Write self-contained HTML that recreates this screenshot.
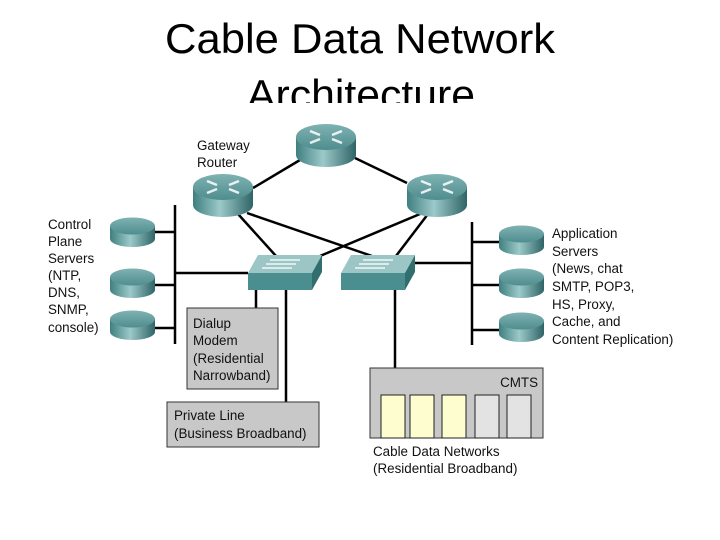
<!DOCTYPE html>
<html><head><meta charset="utf-8"><style>
html,body{margin:0;padding:0;background:#fff;}
svg{display:block;font-family:"Liberation Sans",Arial,sans-serif;}
</style></head><body>
<svg width="720" height="540" viewBox="0 0 720 540" xmlns="http://www.w3.org/2000/svg">
<defs>
<linearGradient id="cyl" x1="0" x2="1" y1="0" y2="0">
<stop offset="0" stop-color="#3f7f80"/><stop offset="0.45" stop-color="#9cc9c9"/><stop offset="1" stop-color="#2f6466"/>
</linearGradient>
<linearGradient id="top" x1="0" x2="0" y1="0" y2="1">
<stop offset="0" stop-color="#7fb2b3"/><stop offset="1" stop-color="#4f8d8e"/>
</linearGradient>
<clipPath id="tc"><rect x="0" y="0" width="720" height="103"/></clipPath>
<g id="router">
<path d="M0,14 L0,32 A30,12 0 0 0 60,32 L60,14 Z" fill="url(#cyl)"/>
<ellipse cx="30" cy="14" rx="30" ry="13" fill="url(#top)"/>
<g stroke="#fff" stroke-width="2.5" opacity="0.85">
<line x1="14" y1="8" x2="24" y2="12"/><line x1="36" y1="16" x2="46" y2="20"/>
<line x1="46" y1="8" x2="36" y2="12"/><line x1="24" y1="16" x2="14" y2="20"/>
</g>
</g>
<g id="server">
<path d="M0,9 L0,22 A22.5,8 0 0 0 45,22 L45,9 Z" fill="url(#cyl)"/>
<ellipse cx="22.5" cy="9" rx="22.5" ry="8.5" fill="url(#top)"/>
</g>
<g id="switch">
<polygon points="10,0 74,0 64,18 0,18" fill="#9cc6c6"/>
<polygon points="0,18 64,18 64,35 0,35" fill="#4a8e8f"/>
<polygon points="64,18 74,0 74,17 64,35" fill="#336e6f"/>
<g stroke="#fff" stroke-width="1.5" opacity="0.85">
<line x1="22" y1="5" x2="52" y2="5"/><line x1="18" y1="9" x2="48" y2="9"/><line x1="14" y1="13" x2="44" y2="13"/>
</g>
</g>
</defs>

<g clip-path="url(#tc)" font-size="42" fill="#000" text-anchor="middle">
<text x="360" y="53" textLength="390" lengthAdjust="spacingAndGlyphs">Cable Data Network</text>
<text x="361" y="109" textLength="228" lengthAdjust="spacingAndGlyphs">Architecture</text>
</g>

<g stroke="#000" stroke-width="2.5" fill="none">
<line x1="253" y1="188" x2="300" y2="160"/>
<line x1="355" y1="158" x2="407" y2="183"/>
<line x1="238" y1="214" x2="276" y2="256"/>
<line x1="247" y1="213" x2="372" y2="256"/>
<line x1="420" y1="214" x2="320" y2="256"/>
<line x1="428" y1="214" x2="396" y2="256"/>
<line x1="175" y1="205" x2="175" y2="344"/>
<line x1="150" y1="232" x2="175" y2="232"/>
<line x1="150" y1="285" x2="175" y2="285"/>
<line x1="150" y1="328" x2="175" y2="328"/>
<line x1="175" y1="273" x2="248" y2="273"/>
<line x1="472" y1="222" x2="472" y2="345"/>
<line x1="472" y1="242" x2="500" y2="242"/>
<line x1="472" y1="285" x2="500" y2="285"/>
<line x1="472" y1="330" x2="500" y2="330"/>
<line x1="415" y1="263" x2="472" y2="263"/>
<line x1="256" y1="290" x2="256" y2="309"/>
<line x1="286" y1="290" x2="286" y2="402"/>
<line x1="395" y1="290" x2="395" y2="368"/>
</g>

<use href="#router" x="296" y="123"/>
<use href="#router" x="193" y="173"/>
<use href="#router" x="407" y="173"/>
<use href="#switch" x="248" y="255"/>
<use href="#switch" x="341" y="255"/>
<use href="#server" x="110" y="217"/>
<use href="#server" x="110" y="268"/>
<use href="#server" x="110" y="310"/>
<use href="#server" x="499" y="225"/>
<use href="#server" x="499" y="268"/>
<use href="#server" x="499" y="312"/>

<g font-size="13.4" fill="#111">
<text x="197" y="150">Gateway</text>
<text x="197" y="167">Router</text>
<text x="48" y="229">Control</text>
<text x="48" y="246">Plane</text>
<text x="48" y="263">Servers</text>
<text x="48" y="280">(NTP,</text>
<text x="48" y="297">DNS,</text>
<text x="48" y="314">SNMP,</text>
<text x="48" y="332">console)</text>
<text x="552" y="238">Application</text>
<text x="552" y="256">Servers</text>
<text x="552" y="273">(News, chat</text>
<text x="552" y="291">SMTP, POP3,</text>
<text x="552" y="309">HS, Proxy,</text>
<text x="552" y="326">Cache, and</text>
<text x="552" y="344">Content Replication)</text>
</g>

<rect x="187" y="308" width="91" height="81" fill="#c8c8c8" stroke="#333" stroke-width="1"/>
<g font-size="13.4" fill="#111">
<text x="193" y="328">Dialup</text>
<text x="193" y="345">Modem</text>
<text x="193" y="363">(Residential</text>
<text x="193" y="380">Narrowband)</text>
</g>
<rect x="167" y="402" width="152" height="45" fill="#c8c8c8" stroke="#333" stroke-width="1"/>
<g font-size="13.4" fill="#111">
<text x="174" y="420">Private Line</text>
<text x="174" y="438">(Business Broadband)</text>
</g>

<rect x="370" y="368" width="173" height="70" fill="#c8c8c8" stroke="#333" stroke-width="1"/>
<text x="538" y="387" font-size="13.4" text-anchor="end" fill="#111">CMTS</text>
<g stroke="#222" stroke-width="1">
<rect x="381" y="395" width="24" height="43" fill="#fdfdcf"/>
<rect x="410" y="395" width="24" height="43" fill="#fdfdcf"/>
<rect x="442" y="395" width="24" height="43" fill="#fdfdcf"/>
<rect x="475" y="395" width="24" height="43" fill="#e3e3e3"/>
<rect x="507" y="395" width="24" height="43" fill="#e3e3e3"/>
</g>
<g font-size="13.4" fill="#111">
<text x="373" y="456">Cable Data Networks</text>
<text x="373" y="473">(Residential Broadband)</text>
</g>
</svg>
</body></html>
